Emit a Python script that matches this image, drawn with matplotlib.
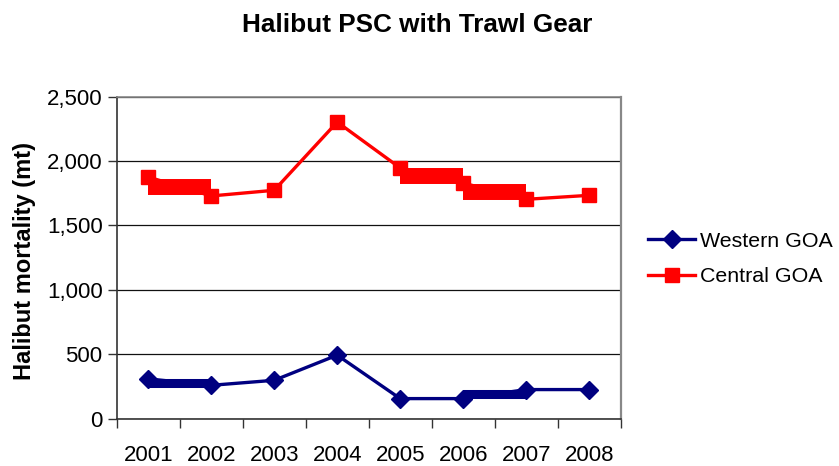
import matplotlib
matplotlib.use("Agg")
import matplotlib.pyplot as plt

plt.rcParams['font.family'] = ['Liberation Sans', 'DejaVu Sans']

# category positions (one per year)
years = [2001, 2002, 2003, 2004, 2005, 2006, 2007, 2008]
year_labels = ['2001', '2002', '2003', '2004', '2005', '2006', '2007', '2008']

# halibut mortality (mt), one value per year
western = [311, 261, 300, 495, 158, 158, 228, 228]
central = [1876, 1729, 1773, 2302, 1946, 1829, 1703, 1734]

# runs of repeated in-season values that pile up between two years
# (start year, end year, value)
western_runs = [(2001, 2002, 280), (2006, 2007, 194)]
central_runs = [(2001, 2002, 1798), (2005, 2006, 1880), (2006, 2007, 1763)]

y_ticks = [0, 500, 1000, 1500, 2000, 2500]
y_tick_labels = ['0', '500', '1,000', '1,500', '2,000', '2,500']

navy = '#000080'
red = '#FF0000'

fig = plt.figure(figsize=(8.39, 4.66), dpi=100)
ax = fig.add_axes([0.1391, 0.1009, 0.6007, 0.692])

for x0, x1, v in western_runs:
    ax.plot([x0, x1], [v, v], color=navy, lw=6.5, solid_capstyle='butt', zorder=2)
for x0, x1, v in central_runs:
    ax.plot([x0, x1], [v, v], color=red, lw=11.5, solid_capstyle='butt', zorder=2)

ax.plot(years, western, color=navy, lw=2.4, marker='D', ms=9.6,
        label='Western GOA', zorder=3)
ax.plot(years, central, color=red, lw=2.4, marker='s', ms=9.4,
        label='Central GOA', zorder=3)

ax.set_xlim(2000.5, 2008.5)
ax.set_ylim(0, 2500)

# tick marks between categories, labels centred on them
bounds = [y - 0.5 for y in years] + [years[-1] + 0.5]
ax.set_xticks(bounds)
ax.set_xticklabels([''] * len(bounds))
ax.set_xticks(years, minor=True)
ax.set_xticklabels(year_labels, minor=True)
ax.tick_params(axis='x', which='major', direction='out', length=6.5, width=1, color='#333333')
ax.tick_params(axis='x', which='minor', length=0, pad=18.5, labelsize=16)

ax.set_yticks(y_ticks)
ax.set_yticklabels(y_tick_labels)
ax.tick_params(axis='y', direction='out', length=6.5, width=1, color='#333333',
               pad=3.6, labelsize=16)

ax.grid(axis='y', color='#111111', lw=0.9)
ax.set_axisbelow(True)

ax.spines['left'].set_color('#333333')
ax.spines['bottom'].set_color('#333333')
ax.spines['left'].set_linewidth(1.2)
ax.spines['bottom'].set_linewidth(1.2)
ax.spines['top'].set_color('#888888')
ax.spines['right'].set_color('#888888')
ax.spines['top'].set_linewidth(1.2)
ax.spines['right'].set_linewidth(1.6)

fig.text(417 / 839, 1 - 31.7 / 466, 'Halibut PSC with Trawl Gear',
         ha='center', va='baseline', fontsize=18.8, fontweight='bold')
fig.text(36.5 / 839, 1 - 261 / 466, 'Halibut mortality (mt)', rotation=90,
         ha='right', va='center', fontsize=17, fontweight='bold')

fig.legend(loc='center left', bbox_to_anchor=(648 / 839, 1 - 259 / 466),
           frameon=False, fontsize=15.4, handlelength=2.2, handletextpad=0.25,
           labelspacing=0.78, borderpad=0, borderaxespad=0)

fig.savefig('out.png', dpi=100)
